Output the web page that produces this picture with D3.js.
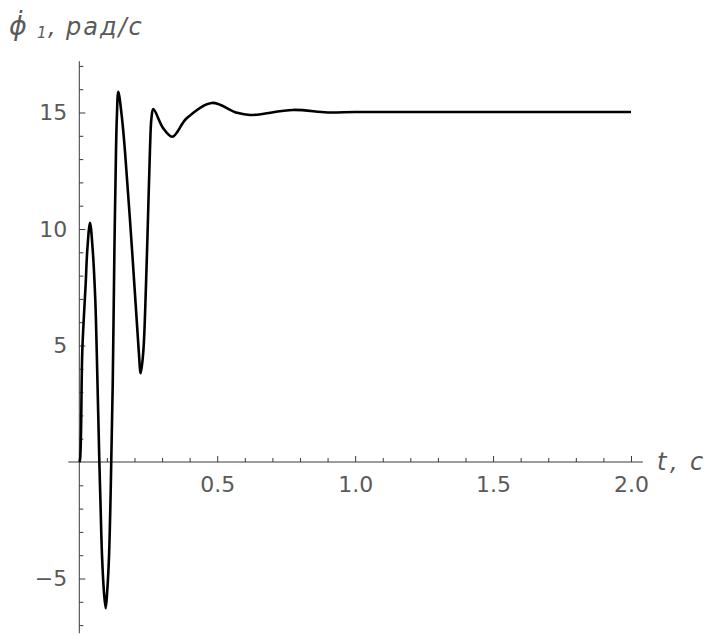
<!DOCTYPE html>
<html>
<head>
<meta charset="utf-8">
<script src="https://cdn.jsdelivr.net/npm/d3@7"></script>
<style>
  html, body { margin: 0; padding: 0; background: #fff; }
  svg { display: block; }
</style>
</head>
<body>
<svg id="chart" width="709" height="635"></svg>
<script>
// ---- data ----
const timeS = [0, 0.0025, 0.011, 0.0232, 0.029, 0.0388, 0.0486, 0.058, 0.0631, 0.0725, 0.0765, 0.0825, 0.0895, 0.0957,
  0.1015, 0.1077, 0.1139, 0.1211, 0.1272, 0.1330, 0.1360, 0.1414, 0.1548, 0.1657, 0.1921, 0.2153, 0.2226,
  0.2320, 0.2418, 0.2490, 0.2560, 0.2615, 0.2683, 0.3045, 0.3371, 0.3893, 0.48, 0.5706,
  0.6188, 0.7747, 0.9, 1.0, 1.2, 1.5, 1.8, 2.0];
const phiDot = [0, 0.09, 4.81, 7.67, 9.10, 10.27, 9.10, 6.95, 4.81, 0.09, -1.63, -4.06, -5.60, -6.28,
  -5.49, -4.06, -1.20, 3.30, 9.03, 13.32, 14.75, 15.89, 14.75, 13.32, 8.95, 4.80, 3.81,
  4.73, 7.60, 10.46, 13.32, 14.75, 15.15, 14.32, 13.96, 14.75, 15.41, 14.99,
  14.89, 15.11, 15.00, 15.02, 15.02, 15.02, 15.02, 15.02];
const xMajorTicks = [0.5, 1.0, 1.5, 2.0];
const xTickLabels = ["0.5", "1.0", "1.5", "2.0"];
const yMajorTicks = [-5, 5, 10, 15];
const yTickLabels = ["\u22125", "5", "10", "15"];
const xLabelParts = ["t", ",", "c"];
const yLabelParts = ["\u03D5\u0307", "1", ",", "рад/с"];

// ---- layout ----
const svg = d3.select("#chart");
const x = d3.scaleLinear().domain([0, 2]).range([79.3, 631]);
const y = d3.scaleLinear().domain([0, 15]).range([462, 112.5]);
const xExtent = [-0.04, 2.043];
const yExtent = [-7.35, 17.2];
const axisColor = "#3a3a3a";
const labelColor = "#5a5a5a";
const tickFont = "'DejaVu Sans', sans-serif";

const g = svg.append("g");

// axis lines
g.append("line")
  .attr("x1", x(xExtent[0])).attr("x2", x(xExtent[1]))
  .attr("y1", y(0)).attr("y2", y(0))
  .attr("stroke", axisColor).attr("stroke-width", 1);
g.append("line")
  .attr("x1", x(0)).attr("x2", x(0))
  .attr("y1", y(yExtent[0])).attr("y2", y(yExtent[1]))
  .attr("stroke", axisColor).attr("stroke-width", 1);

// x minor ticks
const xMinor = d3.range(1, 21).map(i => i / 10).filter(v => !xMajorTicks.some(m => Math.abs(m - v) < 1e-9));
const xMinorAxis = d3.axisBottom(x).tickValues(xMinor).tickSizeInner(-4).tickSizeOuter(0).tickFormat("");
const gxm = g.append("g").attr("transform", `translate(0,${y(0)})`).call(xMinorAxis);
gxm.select(".domain").remove();
gxm.selectAll("line").attr("stroke", axisColor);

// x major ticks
const xAxis = d3.axisBottom(x).tickValues(xMajorTicks).tickSizeInner(-6).tickSizeOuter(0).tickPadding(14)
  .tickFormat((d, i) => xTickLabels[i]);
const gx = g.append("g").attr("transform", `translate(0,${y(0)})`).call(xAxis);
gx.select(".domain").remove();
gx.selectAll("line").attr("stroke", axisColor);
gx.selectAll("text").attr("fill", labelColor).style("font-family", tickFont).style("font-size", "22px");

// y minor ticks
const yMinor = d3.range(-7, 18).filter(v => v % 5 !== 0);
const yMinorAxis = d3.axisLeft(y).tickValues(yMinor).tickSizeInner(-4).tickSizeOuter(0).tickFormat("");
const gym = g.append("g").attr("transform", `translate(${x(0)},0)`).call(yMinorAxis);
gym.select(".domain").remove();
gym.selectAll("line").attr("stroke", axisColor);

// y major ticks
const yAxis = d3.axisLeft(y).tickValues(yMajorTicks).tickSizeInner(-6).tickSizeOuter(0).tickPadding(12)
  .tickFormat((d, i) => yTickLabels[i]);
const gy = g.append("g").attr("transform", `translate(${x(0)},0)`).call(yAxis);
gy.select(".domain").remove();
gy.selectAll("line").attr("stroke", axisColor);
gy.selectAll("text").attr("fill", labelColor).style("font-family", tickFont).style("font-size", "22px");

// curve
const pts = timeS.map((t, i) => [t, phiDot[i]]);
const line = d3.line().x(d => x(d[0])).y(d => y(d[1])).curve(d3.curveCatmullRom.alpha(0.5));
g.append("path").datum(pts)
  .attr("d", line)
  .attr("fill", "none")
  .attr("stroke", "#000")
  .attr("stroke-width", 2.6)
  .attr("stroke-linejoin", "round");

// axis labels
const xl = g.append("text")
  .attr("y", 470)
  .attr("fill", labelColor)
  .style("font-family", tickFont).style("font-style", "italic").style("font-size", "24px");
xl.append("tspan").attr("x", 657).text(xLabelParts[0]);
xl.append("tspan").attr("x", 670).text(xLabelParts[1]);
xl.append("tspan").attr("x", 690).text(xLabelParts[2]);

const yl = g.append("text")
  .attr("y", 35)
  .attr("fill", labelColor)
  .style("font-family", tickFont).style("font-style", "italic").style("font-size", "24px");
yl.append("tspan").attr("x", 9).style("font-size", "27px").text(yLabelParts[0]);
yl.append("tspan").attr("x", 37).attr("y", 38).style("font-size", "15px").text(yLabelParts[1]);
yl.append("tspan").attr("x", 48).attr("y", 35).text(yLabelParts[2]);
yl.append("tspan").attr("x", 66).attr("y", 35).style("letter-spacing", "2px").text(yLabelParts[3]);
</script>
</body>
</html>
